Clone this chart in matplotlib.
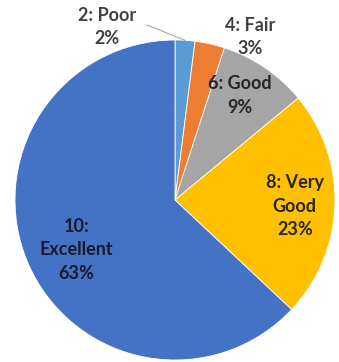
import numpy as np
import matplotlib
matplotlib.use("Agg")
import matplotlib.pyplot as plt

# rating categories and their shares (%)
labels = ["2: Poor", "4: Fair", "6: Good", "8: Very\nGood", "10:\nExcellent"]
shares = [2, 3, 9, 23, 63]
colors = ["#5B9BD5", "#ED7D31", "#A5A5A5", "#FFC000", "#4472C4"]

plt.rcParams['font.family'] = ['Lato', 'DejaVu Sans']

W, H = 339, 362
fig = plt.figure(figsize=(W / 100, H / 100), dpi=100)
ax = fig.add_axes([0, 0, 1, 1])

cx, cy, R = 175, H - 200, 160
wedges, _ = ax.pie(shares, colors=colors, startangle=90, counterclock=False,
                   center=(cx, cy), radius=R, frame=True,
                   wedgeprops=dict(linewidth=0.6, edgecolor='white'))
ax.set_xlim(0, W)
ax.set_ylim(0, H)
ax.set_aspect('equal')
ax.axis('off')

# label placement: (angle in degrees, distance as fraction of radius)
label_pos = [(111.5, 1.16), (65.3, 1.12), (58, 0.77), (-2.9, 0.75), (-153.2, 0.69)]
text_col = ["#404040", "#404040", "#262626", "#262626", "#1a1a2e"]

for lab, s, (ang, d), tc in zip(labels, shares, label_pos, text_col):
    a = np.deg2rad(ang)
    x = cx + d * R * np.cos(a)
    y = cy + d * R * np.sin(a)
    ax.text(x, y, f"{lab}\n{s}%", ha='center', va='center', fontsize=13,
            fontweight='bold', color=tc, linespacing=1.45)

# leader line for the small "Poor" slice
w0 = wedges[0]
mid = np.deg2rad((w0.theta1 + w0.theta2) / 2)
ex, ey = cx + R * np.cos(mid), cy + R * np.sin(mid)
ax.plot([cx - 28, ex], [H - 25, ey], color='#a6a6a6', lw=0.8)

fig.savefig("out.png", dpi=100, facecolor='white')
